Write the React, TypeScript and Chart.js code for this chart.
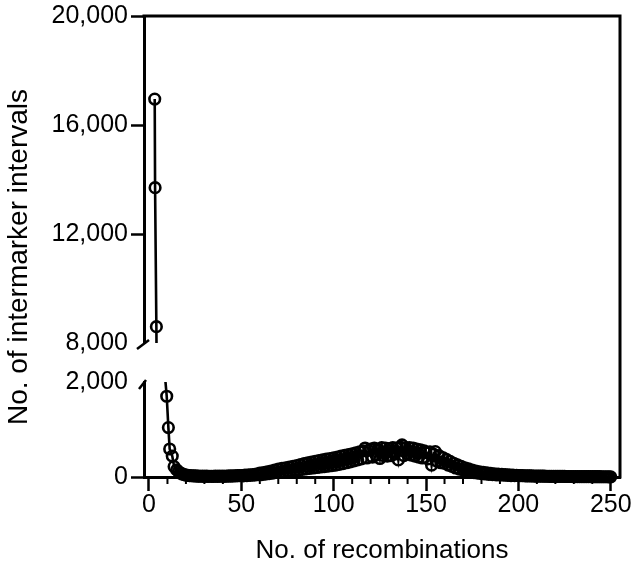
import React, { useEffect, useRef } from 'react';
import { Chart, registerables } from 'chart.js';

Chart.register(...registerables);

// ---- data ----
const xTicks = [0, 50, 100, 150, 200, 250];
const xMinorTicks = [10, 20, 30, 40, 60, 70, 80, 90, 110, 120, 130, 140, 160, 170, 180, 190, 210, 220, 230, 240];
const yTopTicks = [8000, 12000, 16000, 20000];
const yBottomTicks = [0, 2000];

// first few (sparse) points
const earlyX = [3.1, 3.3, 4.0, 4.5, 9.6, 10.5, 11.2, 12.6, 13.6];
const earlyY = [16950, 13700, 8600, 4000, 1700, 1040, 590, 440, 220];

// dense band: one value per recombination count, starting at 15
const bandStartX = 15;
const bandY = [
  150, 112, 84, 64, 50,
  40, 34, 30, 26, 22, 25, 18, 20, 16, 19,
  14, 17, 12, 16, 15, 13, 18, 14, 17, 16,
  19, 15, 21, 18, 24, 20, 26, 23, 29, 27,
  32, 22, 40, 30, 45, 35, 52, 40, 62, 48,
  80, 50, 95, 60, 110, 70, 125, 80, 145, 95,
  165, 105, 180, 115, 195, 125, 210, 135, 225, 145,
  240, 150, 260, 160, 280, 170, 300, 180, 315, 190,
  330, 200, 345, 210, 360, 220, 375, 230, 390, 240,
  405, 250, 420, 265, 440, 280, 455, 300, 470, 320,
  490, 340, 510, 360, 530, 380, 550, 610, 400, 560,
  590, 420, 610, 460, 580, 390, 620, 450, 610, 440,
  600, 450, 620, 480, 610, 360, 630, 675, 450, 620,
  490, 620, 460, 610, 440, 590, 420, 570, 400, 550,
  510, 380, 530, 250, 480, 535, 330, 450, 300, 410,
  290, 370, 250, 330, 225, 290, 190, 255, 165, 225,
  150, 195, 125, 170, 110, 145, 92, 125, 80, 110,
  72, 96, 64, 85, 56, 76, 50, 66, 45, 60,
  42, 54, 38, 48, 34, 44, 31, 40, 28, 37,
  30, 29, 28, 26, 25, 24, 23, 22, 21, 20,
  20, 19, 18, 18, 17, 16, 16, 15, 15, 14,
  14, 13, 13, 12, 12, 12, 11, 11, 10, 10,
  10, 9, 9, 9, 8, 8, 8, 7, 7, 7,
  7, 6, 6, 6, 6, 5, 5, 5, 5, 4,
  4,
];

const xTitle = 'No. of recombinations';
const yTitle = 'No. of intermarker intervals';

const FAMILY = '"Liberation Sans", Arial, Helvetica, sans-serif';

const framePlugin = {
  id: 'frameAndBreaks',
  afterDraw(chart: any) {
    const { ctx, chartArea } = chart;
    const xs = chart.scales.x;
    const yT = chart.scales.yTop;
    const yB = chart.scales.yBot;
    ctx.save();
    ctx.strokeStyle = '#000';
    ctx.lineCap = 'butt';
    // top + right frame
    ctx.lineWidth = 3;
    ctx.beginPath();
    ctx.moveTo(chartArea.left - 1.5, chartArea.top);
    ctx.lineTo(chartArea.right, chartArea.top);
    ctx.lineTo(chartArea.right, chartArea.bottom + 1.5);
    ctx.stroke();
    // minor x ticks
    ctx.lineWidth = 2;
    xMinorTicks.forEach((v) => {
      const p = xs.getPixelForValue(v);
      ctx.beginPath();
      ctx.moveTo(p, xs.top);
      ctx.lineTo(p, xs.top + 7);
      ctx.stroke();
    });
    // axis break marks
    ctx.lineWidth = 2.5;
    const lx = chartArea.left;
    ctx.beginPath();
    ctx.moveTo(lx - 7, yT.bottom + 6);
    ctx.lineTo(lx + 5, yT.bottom - 3);
    ctx.stroke();
    ctx.beginPath();
    ctx.moveTo(lx - 5, yB.top + 7);
    ctx.lineTo(lx + 2, yB.top - 2);
    ctx.stroke();
    // y title
    ctx.fillStyle = '#000';
    ctx.font = '28px ' + FAMILY;
    ctx.translate(19, 257);
    ctx.rotate(-Math.PI / 2);
    ctx.textAlign = 'center';
    ctx.textBaseline = 'middle';
    ctx.fillText(yTitle, 0, 0);
    ctx.restore();
  },
};

export default function App() {
  const ref = useRef<HTMLCanvasElement | null>(null);

  useEffect(() => {
    if (!ref.current) return;
    const series = [
      ...earlyX.map((x, i) => ({ x, y: earlyY[i] })),
      ...bandY.map((y, i) => ({ x: bandStartX + i, y })),
    ];
    const style = {
      borderColor: '#000',
      borderWidth: 2.6,
      pointRadius: 5.3,
      pointBorderWidth: 2.6,
      pointBorderColor: '#000',
      pointBackgroundColor: 'rgba(0,0,0,0)',
      tension: 0,
      fill: false,
    };
    const tickFont = { family: FAMILY, size: 25, lineHeight: 1 };
    const fmt = (v: any) => Number(v).toLocaleString('en-US');
    const yCommon = (ticks: number[], hidden: number) => ({
      type: 'linear' as const,
      position: 'left' as const,
      stack: 'y',
      afterBuildTicks: (s: any) => {
        s.ticks = ticks.map((v) => ({ value: v }));
      },
      afterFit: (s: any) => {
        s.width = 144;
      },
      ticks: { font: tickFont, color: '#000', padding: 3, callback: fmt },
      grid: {
        display: true,
        drawOnChartArea: false,
        drawTicks: true,
        tickLength: 13,
        tickWidth: 2.5,
        tickColor: (c: any) => (c.tick && c.tick.value === hidden ? 'rgba(0,0,0,0)' : '#000'),
      },
      border: { display: true, color: '#000', width: 3 },
    });

    const chart = new Chart(ref.current, {
      type: 'line',
      data: {
        datasets: [
          { data: series, yAxisID: 'yTop', xAxisID: 'x', ...style },
          { data: series, yAxisID: 'yBot', xAxisID: 'x', clip: { left: 0, right: 0, top: 0, bottom: 8 }, ...style },
        ],
      },
      options: {
        responsive: false,
        animation: false,
        devicePixelRatio: 1,
        layout: { padding: { top: 16, right: 14, left: 0, bottom: 0 } },
        plugins: { legend: { display: false }, tooltip: { enabled: false }, title: { display: false } },
        scales: {
          x: {
            type: 'linear',
            position: 'bottom',
            min: -2.7,
            max: 255,
            afterBuildTicks: (s: any) => {
              s.ticks = xTicks.map((v) => ({ value: v }));
            },
            afterFit: (s: any) => {
              s.height = 91;
            },
            ticks: { font: tickFont, color: '#000', padding: 2, maxRotation: 0, autoSkip: false },
            grid: { display: true, drawOnChartArea: false, drawTicks: true, tickLength: 14, tickWidth: 2.5, tickColor: '#000' },
            border: { display: true, color: '#000', width: 3 },
            title: { display: true, text: xTitle, color: '#000', font: { family: FAMILY, size: 26 }, padding: { top: 0, bottom: 2 } },
          },
          yTop: { ...yCommon(yTopTicks, 8000), min: 8000, max: 20000, stackWeight: 327, weight: 3 },
          yGap: {
            type: 'linear',
            position: 'left',
            stack: 'y',
            stackWeight: 39,
            weight: 2,
            min: 0,
            max: 1,
            display: false,
            afterFit: (s: any) => {
              s.width = 144;
            },
          },
          yBot: { ...yCommon(yBottomTicks, 2000), min: 0, max: 2000, stackWeight: 95, weight: 1 },
        },
      } as any,
      plugins: [framePlugin],
    });
    return () => chart.destroy();
  }, []);

  return (
    <div style={{ position: 'absolute', left: 0, top: 0, width: 634, height: 568, background: '#fff' }}>
      <canvas ref={ref} width={634} height={568} style={{ display: 'block' }} />
    </div>
  );
}
